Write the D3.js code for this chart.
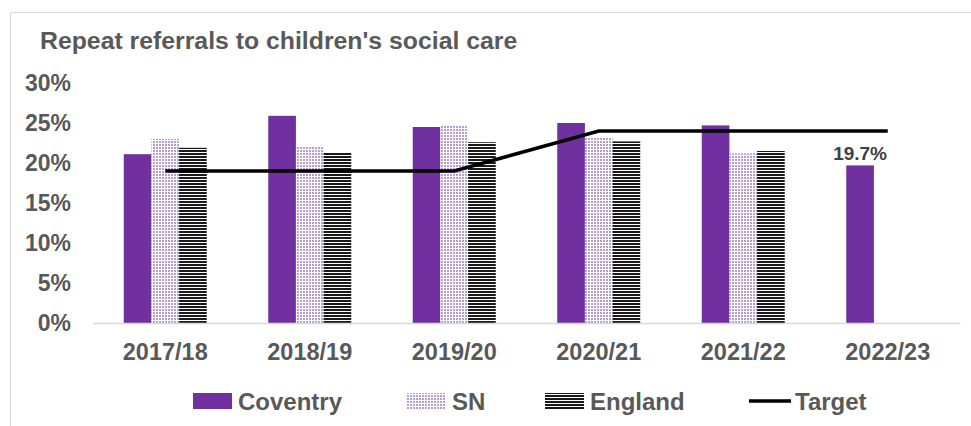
<!DOCTYPE html>
<html>
<head>
<meta charset="utf-8">
<script src="https://cdn.jsdelivr.net/npm/d3@7"></script>
<style>
  html, body { margin: 0; padding: 0; background: #fff; }
  svg { display: block; }
  text { font-family: "Liberation Sans", Arial, sans-serif; font-weight: bold; }
</style>
</head>
<body>
<svg id="chart" width="971" height="426"></svg>
<script>
// Repeat referrals to children's social care, % of referrals
const categories = ["2017/18", "2018/19", "2019/20", "2020/21", "2021/22", "2022/23"];
const coventry = [21.1, 25.9, 24.5, 25.0, 24.7, 19.7];
const sn = [23.0, 22.0, 24.7, 23.2, 21.2, null];
const england = [21.9, 21.3, 22.6, 22.7, 21.5, null];
const target = [19, 19, 19, 24, 24, 24];
const yTicks = [0, 5, 10, 15, 20, 25, 30];
const seriesNames = ["Coventry", "SN", "England"];
const labelled = [{ series: "Coventry", index: 5 }];

const svg = d3.select("#chart");
const W = 971, H = 426;
const plot = { left: 93, right: 960, top: 83, bottom: 323 };
const textColor = "#595959";
const purple = "#7030a0";

// Fill patterns for the SN (dotted) and England (striped) bars
const defs = svg.append("defs");
const dots = defs.append("pattern").attr("id", "dots")
  .attr("patternUnits", "userSpaceOnUse").attr("width", 3).attr("height", 3);
dots.append("rect").attr("width", 3).attr("height", 3).attr("fill", "#fff");
dots.append("rect").attr("x", 0).attr("y", 0).attr("width", 2).attr("height", 2).attr("fill", "#b79dd3");
const stripes = defs.append("pattern").attr("id", "stripes")
  .attr("patternUnits", "userSpaceOnUse").attr("width", 4).attr("height", 3);
stripes.append("rect").attr("width", 4).attr("height", 3).attr("fill", "#fff");
stripes.append("rect").attr("y", 0).attr("width", 4).attr("height", 2).attr("fill", "#1a1a1a");

const fills = { Coventry: purple, SN: "url(#dots)", England: "url(#stripes)" };
const valuesBySeries = { Coventry: coventry, SN: sn, England: england };

// Chart frame
svg.append("path")
  .attr("d", `M10.5,${H} V12.5 H${W}`)
  .attr("fill", "none").attr("stroke", "#d9d9d9").attr("stroke-width", 1);

// Title
svg.append("text").attr("x", 40).attr("y", 49)
  .attr("fill", textColor).attr("font-size", 24.8)
  .text("Repeat referrals to children's social care");

// Scales
const group = 83, step = (plot.right - plot.left) / categories.length;
const padIn = 1 - group / step;
const x0 = d3.scaleBand().domain(categories).range([plot.left, plot.right])
  .paddingInner(padIn).paddingOuter(padIn / 2);
const x1 = d3.scaleBand().domain(seriesNames).range([0, x0.bandwidth()]);
const y = d3.scaleLinear().domain([0, 30]).range([plot.bottom, plot.top]);

// Y axis labels
const yAxis = svg.append("g").attr("transform", `translate(${plot.left},0)`)
  .call(d3.axisLeft(y).tickValues(yTicks).tickFormat(d => d + "%").tickSize(0).tickPadding(22));
yAxis.select(".domain").remove();
yAxis.selectAll("text").attr("fill", textColor).attr("font-size", 23)
  .attr("font-family", "Liberation Sans, Arial, sans-serif").attr("font-weight", "bold");

// Bars
const barData = [];
categories.forEach((c, i) => {
  seriesNames.forEach(s => {
    const v = valuesBySeries[s][i];
    if (v != null) barData.push({ cat: c, series: s, value: v });
  });
});
svg.append("g").selectAll("rect").data(barData).join("rect")
  .attr("x", d => x0(d.cat) + x1(d.series))
  .attr("width", x1.bandwidth())
  .attr("y", d => y(d.value))
  .attr("height", d => y(0) - y(d.value))
  .attr("fill", d => fills[d.series]);

// X axis baseline and labels
const xAxis = svg.append("g").attr("transform", `translate(0,${plot.bottom})`)
  .call(d3.axisBottom(x0).tickSize(0).tickPadding(20));
xAxis.select(".domain").attr("stroke", "#d9d9d9").attr("stroke-width", 1.5);
xAxis.selectAll("text").attr("fill", textColor).attr("font-size", 23.5)
  .attr("font-family", "Liberation Sans, Arial, sans-serif").attr("font-weight", "bold");

// Target line through category centres
const line = d3.line()
  .x((d, i) => x0(categories[i]) + x0.bandwidth() / 2)
  .y(d => y(d));
svg.append("path").datum(target)
  .attr("d", line).attr("fill", "none")
  .attr("stroke", "#000").attr("stroke-width", 3.5);

// Value label
svg.append("g").selectAll("text").data(labelled).join("text")
  .attr("x", d => x0(categories[d.index]) + x1(d.series) + x1.bandwidth() / 2)
  .attr("y", d => y(valuesBySeries[d.series][d.index]) - 5)
  .attr("text-anchor", "middle").attr("fill", "#404040").attr("font-size", 19)
  .text(d => valuesBySeries[d.series][d.index] + "%");

// Legend
const legendItems = [
  { name: "Coventry", x: 193, type: "rect" },
  { name: "SN", x: 407, type: "rect" },
  { name: "England", x: 545, type: "rect" },
  { name: "Target", x: 749, type: "line" }
];
const ly = 401;
const lg = svg.append("g").selectAll("g").data(legendItems).join("g")
  .attr("transform", d => `translate(${d.x},${ly})`);
lg.filter(d => d.type === "rect").append("rect")
  .attr("x", 0).attr("y", -8).attr("width", 39).attr("height", 16)
  .attr("fill", d => fills[d.name]);
lg.filter(d => d.type === "line").append("line")
  .attr("x1", 0).attr("x2", 42).attr("y1", 0).attr("y2", 0)
  .attr("stroke", "#000").attr("stroke-width", 3.5);
lg.append("text")
  .attr("x", d => d.type === "line" ? 46 : 45).attr("y", 0).attr("dy", "0.36em")
  .attr("fill", textColor).attr("font-size", 24)
  .text(d => d.name);
</script>
</body>
</html>
